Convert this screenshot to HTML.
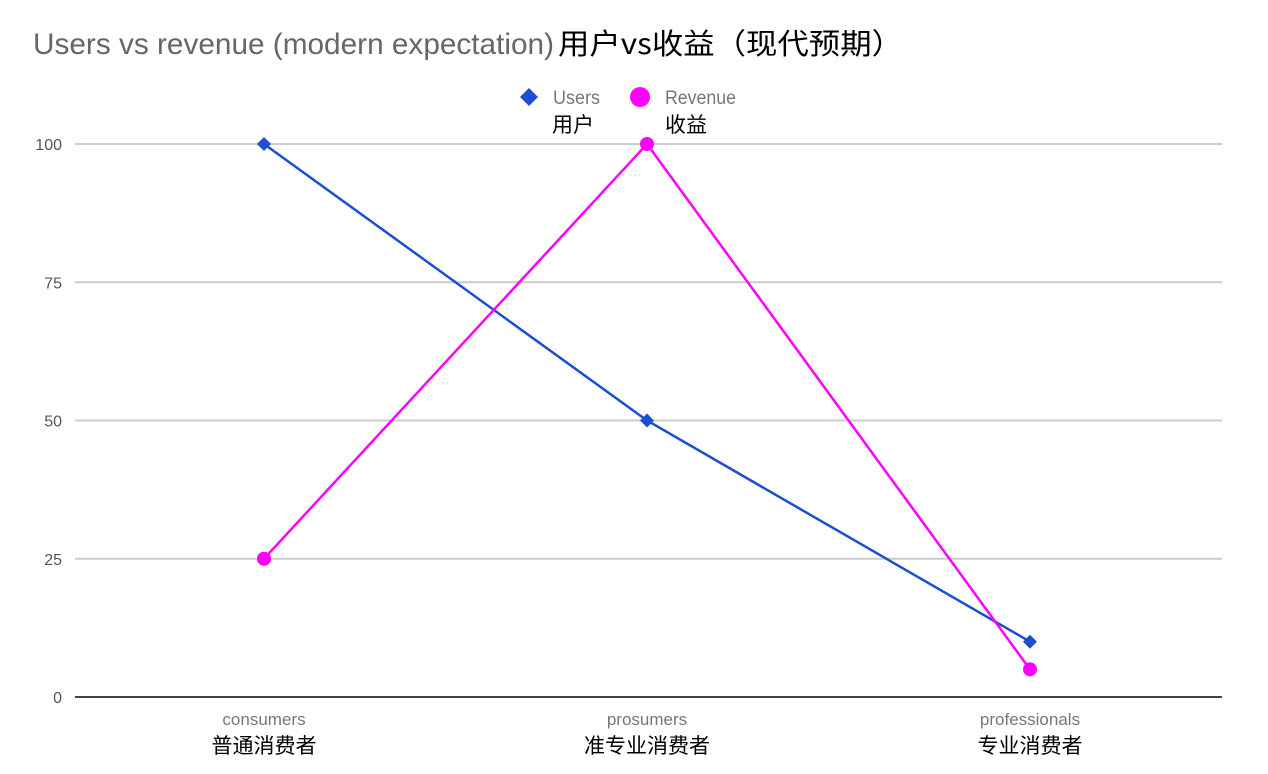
<!DOCTYPE html>
<html><head><meta charset="utf-8"><style>
body{margin:0;background:#fff;}
svg{display:block;font-family:"Liberation Sans","Noto Sans CJK SC",sans-serif;}
</style></head><body>
<svg id="chart" width="1268" height="774" viewBox="0 0 1268 774">
<text x="33" y="54" font-size="30" fill="#666" textLength="521" lengthAdjust="spacingAndGlyphs">Users vs revenue (modern expectation)</text>
<text x="558" y="54" font-size="29" fill="#000" font-family="Noto Sans CJK SC, sans-serif" textLength="345" lengthAdjust="spacingAndGlyphs">用户vs收益（现代预期）</text>
<g>
<path d="M529 88 L538 97 L529 106 L520 97 Z" fill="#1a4fd1"/>
<text x="553" y="104" font-size="19" fill="#777" textLength="47" lengthAdjust="spacingAndGlyphs">Users</text>
<text x="552" y="132" font-size="21" fill="#000">用户</text>
<circle cx="640" cy="97" r="10" fill="#ff00ff"/>
<text x="665" y="104" font-size="19" fill="#777" textLength="71" lengthAdjust="spacingAndGlyphs">Revenue</text>
<text x="665" y="132" font-size="21" fill="#000">收益</text>
</g>
<g id="grid"></g><g id="series"></g>
</svg>
<script>
const categories=["consumers","prosumers","professionals"];
const categoriesCn=["普通消费者","准专业消费者","专业消费者"];
const users=[100,50,10];
const revenue=[25,100,5];
const yTicks=[0,25,50,75,100];
const NS="http://www.w3.org/2000/svg";
const x0=264,dx=383,yTop=144,yBot=697;
function xs(i){return x0+i*dx;}
function ys(v){return yBot-(v/100)*(yBot-yTop);}
function mk(t,a,p){const e=document.createElementNS(NS,t);for(const k in a)e.setAttribute(k,a[k]);p.appendChild(e);return e;}
const g=document.getElementById('grid'),s=document.getElementById('series');
yTicks.forEach(v=>{
 const l=mk('line',{x1:75,x2:1222,y1:ys(v),y2:ys(v),stroke:v===0?'#444':'#ccc','stroke-width':2},g);
 
 
 const t=mk('text',{x:62,y:ys(v)+6,'font-size':16,fill:'#555','text-anchor':'end'},g);t.textContent=v;
 
 
});
categories.forEach((c,i)=>{
 const t=mk('text',{x:xs(i),y:725,'font-size':17,fill:'#777','text-anchor':'middle'},g);t.textContent=c;
 
 
 const t2=mk('text',{x:xs(i),y:753,'font-size':21,fill:'#000','text-anchor':'middle'},g);t2.textContent=categoriesCn[i];
 
 
});
function line(vals,color,name){
 const p=mk('polyline',{points:vals.map((v,i)=>xs(i)+','+ys(v)).join(' '),fill:'none',stroke:color,'stroke-width':2.5},s);
 
 
}
line(users,'#1a4fd1','users');
line(revenue,'#ff00ff','revenue');
users.forEach((v,i)=>{
 const x=xs(i),y=ys(v);
 const m=mk('path',{d:`M${x} ${y-7}L${x+7} ${y}L${x} ${y+7}L${x-7} ${y}Z`,fill:'#1a4fd1'},s);
 
 
});
revenue.forEach((v,i)=>{
 const m=mk('circle',{cx:xs(i),cy:ys(v),r:7,fill:'#ff00ff'},s);
 
 
});
</script>
</body></html>
